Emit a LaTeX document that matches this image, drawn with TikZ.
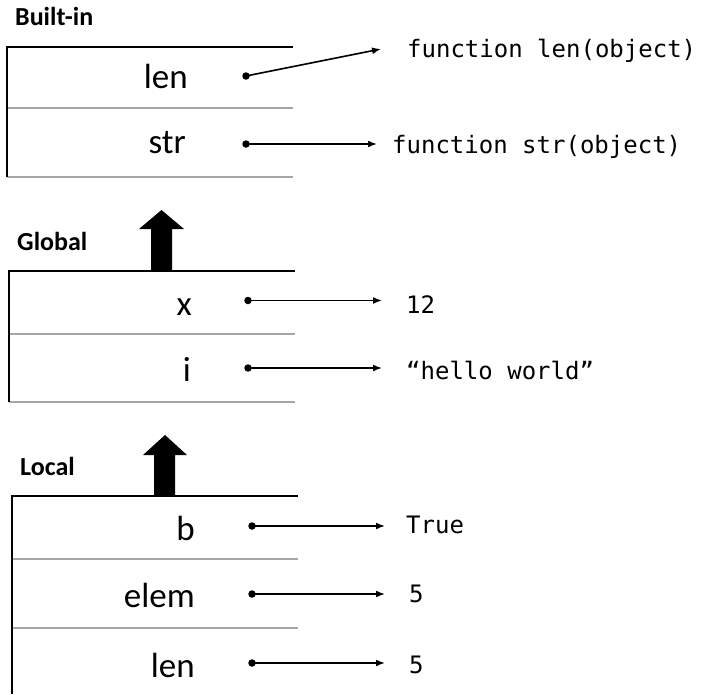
\documentclass[tikz,border=0pt]{standalone}
\usepackage{fontspec}
\setmainfont{Carlito}
\newfontfamily\codefont{DejaVu Sans Mono}
\usetikzlibrary{arrows.meta}
\definecolor{divgray}{HTML}{A6A6A6}
\begin{document}
\begin{tikzpicture}[x=1pt,y=-1pt,
  frameline/.style={line width=2pt, black},
  divline/.style={line width=2pt, divgray},
  hdr/.style={anchor=base west, inner sep=0pt, font=\fontsize{26}{26}\selectfont\bfseries},
  var/.style={anchor=base east, inner sep=0pt, font=\fontsize{35}{35}\selectfont},
  val/.style={anchor=base west, inner sep=0pt, font=\codefont\fontsize{24}{24}\selectfont},
  dot/.style={circle, fill=black, inner sep=0pt, minimum size=7.5pt},
  ptr/.style={line width=1.6pt, -{Latex[length=9pt,width=7pt]}},
  scopearrow/.style={fill=black, draw=none}
]
\useasboundingbox (0,0) rectangle (702,694);

% ---------- Built-in ----------
\node[hdr] (hb) at (15,25) {Built-in};
\draw[divline] (7,108) -- (293,108);
\draw[divline] (7,177) -- (293,177);
\draw[frameline] (293,46.5) -- (7,46.5) -- (7,177);
\node[var] (blen) at (188,88) {len};
\node[var] (bstr) at (186,153) {str};
\node[dot] (dblen) at (246,76) {};
\node[dot] (dbstr) at (246,144) {};
\coordinate (tblen) at (381,49);
\coordinate (tbstr) at (377,144);
\node[val] (vblen) at (407,57) {function len(object)};
\node[val] (vbstr) at (392,153) {function str(object)};
\draw[ptr] (dblen.center) -- (tblen);
\draw[ptr] (dbstr.center) -- (tbstr);

% ---------- Global ----------
\fill[scopearrow] (151,271) -- (151,229) -- (139,229) -- (161.5,210) -- (184,229) -- (172,229) -- (172,271) -- cycle;
\node[hdr] (hg) at (17,250) {Global};
\draw[divline] (9,334) -- (295,334);
\draw[divline] (9,402) -- (295,402);
\draw[frameline] (295,271) -- (9,271) -- (9,402);
\node[var] (gx) at (192,315) {x};
\node[var] (gi) at (191,381) {i};
\node[dot] (dgx) at (248,300.5) {};
\node[dot] (dgi) at (248,368) {};
\coordinate (tgx) at (382,300.5);
\coordinate (tgi) at (382,368);
\node[val] (vgx) at (406,313) {12};
\node[val] (vgi) at (406,379) {“hello world”};
\draw[ptr] (dgx.center) -- (tgx);
\draw[ptr] (dgi.center) -- (tgi);

% ---------- Local ----------
\fill[scopearrow] (154,496) -- (154,455) -- (143,455) -- (165,435) -- (187,455) -- (175,455) -- (175,496) -- cycle;
\node[hdr] (hl) at (20,475) {Local};
\draw[divline] (12,559) -- (298,559);
\draw[divline] (12,628) -- (298,628);
\draw[frameline] (298,496) -- (12,496) -- (12,694);
\node[var] (lb) at (195,540) {b};
\node[var] (lelem) at (195,607) {elem};
\node[var] (llen) at (195,677) {len};
\node[dot] (dlb) at (252,526) {};
\node[dot] (dlelem) at (252,594) {};
\node[dot] (dllen) at (252,663) {};
\coordinate (tlb) at (385,526);
\coordinate (tlelem) at (385,594);
\coordinate (tllen) at (385,663);
\node[val] (vlb) at (406,533) {True};
\node[val] (vlelem) at (409,602) {5};
\node[val] (vllen) at (409,673) {5};
\draw[ptr] (dlb.center) -- (tlb);
\draw[ptr] (dlelem.center) -- (tlelem);
\draw[ptr] (dllen.center) -- (tllen);
\end{tikzpicture}
\end{document}
